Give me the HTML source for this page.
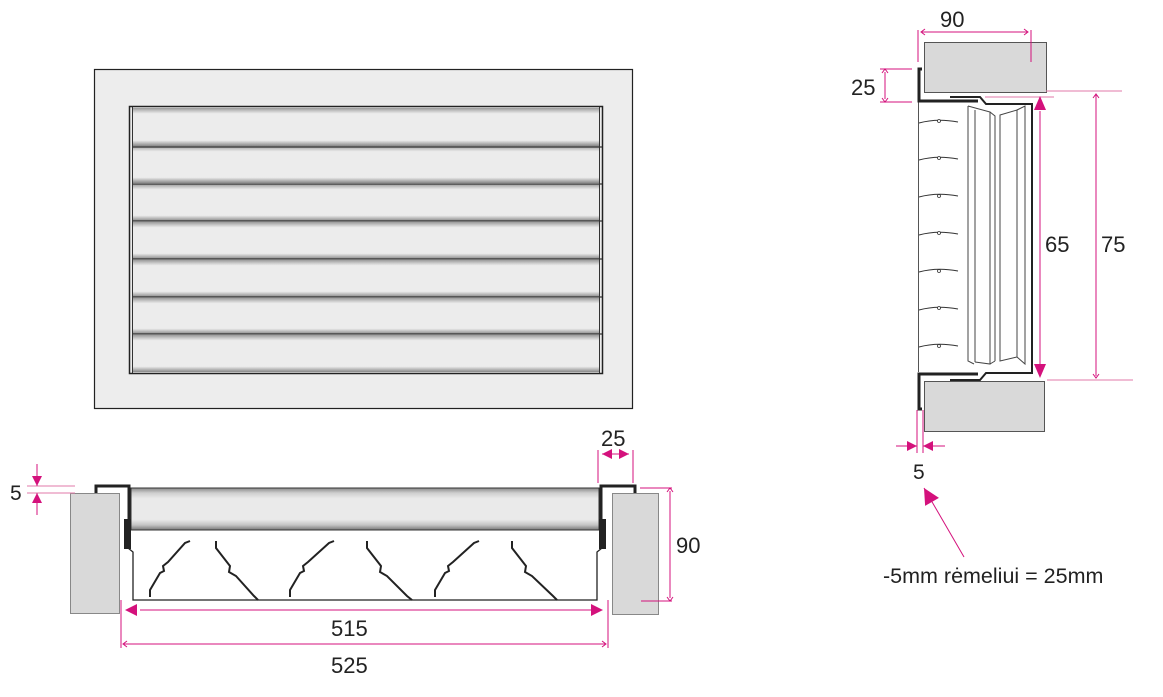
<!DOCTYPE html>
<html><head><meta charset="utf-8"><style>
html,body{margin:0;padding:0;background:#fff;}
svg{display:block;}
text{font-family:"Liberation Sans",Arial,sans-serif;fill:#222;}
</style></head><body>
<svg width="1163" height="697" viewBox="0 0 1163 697" xmlns="http://www.w3.org/2000/svg">
<defs>
<linearGradient id="sl" x1="0" y1="0" x2="0" y2="1">
<stop offset="0" stop-color="#9a9a9a"/><stop offset="0.08" stop-color="#c8c8c8"/><stop offset="0.15" stop-color="#ececec"/><stop offset="0.85" stop-color="#ececec"/><stop offset="0.92" stop-color="#bdbdbd"/><stop offset="1" stop-color="#888"/>
</linearGradient>
<linearGradient id="sl2" x1="0" y1="0" x2="0" y2="1">
<stop offset="0" stop-color="#888"/><stop offset="0.12" stop-color="#cfcfcf"/><stop offset="0.25" stop-color="#eaeaea"/><stop offset="0.75" stop-color="#eaeaea"/><stop offset="0.88" stop-color="#c4c4c4"/><stop offset="1" stop-color="#777"/>
</linearGradient>
<marker id="a" viewBox="0 0 10 10" refX="10" refY="5" markerWidth="10" markerHeight="10" markerUnits="userSpaceOnUse" orient="auto"><path d="M0,0L10,5L0,10z" fill="#d4117c"/></marker>
<marker id="b" viewBox="0 0 10 10" refX="10" refY="5" markerWidth="18" markerHeight="16" markerUnits="userSpaceOnUse" orient="auto"><path d="M0,0L10,5L0,10z" fill="#d4117c"/></marker>
</defs>

<!-- FRONT VIEW -->
<rect x="94.5" y="69.5" width="538" height="339" fill="#ededed" stroke="#222" stroke-width="1.2"/>
<rect x="129.5" y="106.5" width="473" height="267" fill="#ececec" stroke="#222" stroke-width="1.5"/>
<g>
<rect x="133" y="108" width="467" height="38" fill="url(#sl)"/>
<rect x="133" y="146" width="467" height="37" fill="url(#sl)"/>
<rect x="133" y="184" width="467" height="37" fill="url(#sl)"/>
<rect x="133" y="222" width="467" height="37" fill="url(#sl)"/>
<rect x="133" y="260" width="467" height="37" fill="url(#sl)"/>
<rect x="133" y="298" width="467" height="36" fill="url(#sl)"/>
<rect x="133" y="335" width="467" height="37" fill="url(#sl)"/>
</g>
<g stroke="#333" stroke-width="1.3">
<line x1="132" y1="147" x2="602" y2="147"/><line x1="132" y1="184" x2="602" y2="184"/>
<line x1="132" y1="221" x2="602" y2="221"/><line x1="132" y1="259" x2="602" y2="259"/>
<line x1="132" y1="297" x2="602" y2="297"/><line x1="132" y1="334" x2="602" y2="334"/>
</g>
<line x1="132.5" y1="107" x2="132.5" y2="373" stroke="#333" stroke-width="1"/>
<line x1="599.5" y1="107" x2="599.5" y2="373" stroke="#333" stroke-width="1"/>

<!-- BOTTOM VIEW -->
<rect x="70.5" y="493.5" width="49" height="120" fill="#d9d9d9" stroke="#888" stroke-width="1"/>
<rect x="612.5" y="493.5" width="46" height="121" fill="#d9d9d9" stroke="#888" stroke-width="1"/>
<rect x="131" y="488" width="468" height="42" fill="url(#sl2)" stroke="#333" stroke-width="1"/>
<path d="M96,493 V486 H129 V520" fill="none" stroke="#222" stroke-width="3"/>
<rect x="124" y="519" width="7" height="30" fill="#222"/>
<path d="M635,493 V486 H601 V520" fill="none" stroke="#222" stroke-width="3"/>
<rect x="599" y="519" width="7" height="30" fill="#222"/>
<path d="M128,548 L133,552 V600 H597 V552 L602,548" fill="none" stroke="#222" stroke-width="1.3"/>
<g fill="none" stroke="#222" stroke-width="2">
<path d="M150,597 V590 L160,573 L164,571 L163,566 L168,562 L185,543 L190,541"/>
<path d="M216,541 V548 L230,566 L229,572 L236,576 L254,596 L258,600"/>
<path d="M290,597 V590 L300,573 L304,571 L303,566 L308,562 L329,543 L334,541"/>
<path d="M367,541 V548 L381,566 L380,572 L387,576 L407,596 L412,600"/>
<path d="M435,597 V590 L445,573 L449,571 L448,566 L453,562 L474,543 L479,541"/>
<path d="M512,541 V548 L526,566 L525,572 L532,576 L553,596 L557,600"/>
</g>
<g stroke="#d4117c" stroke-width="1" fill="none">
<line x1="27" y1="486" x2="75" y2="486" stroke="#e07aa8"/>
<line x1="27" y1="493" x2="75" y2="493" stroke="#e07aa8"/>
<line x1="37" y1="464" x2="37" y2="486" marker-end="url(#a)"/>
<line x1="37" y1="515" x2="37" y2="493" marker-end="url(#a)"/>
<line x1="598" y1="450" x2="598" y2="483"/>
<line x1="633" y1="450" x2="633" y2="483"/>
<line x1="602" y1="454" x2="629" y2="454" marker-end="url(#a)"/>
<line x1="629" y1="454" x2="602" y2="454" marker-end="url(#a)"/>
<line x1="640" y1="488" x2="672" y2="488"/>
<line x1="641" y1="601" x2="672" y2="601"/>
<line x1="670" y1="491" x2="670" y2="598"/>
<path d="M667,492 L670,488 L673,492 M667,597 L670,601 L673,597"/>
<line x1="121" y1="600" x2="121" y2="648"/>
<line x1="608" y1="600" x2="608" y2="648"/>
<line x1="140" y1="610" x2="595" y2="610"/>
<path d="M125,610 L137,604 V616 Z M603,610 L591,604 V616 Z" fill="#d4117c" stroke="none"/>
<line x1="124" y1="644" x2="605" y2="644"/>
<path d="M127,641 L123,644 L127,647 M602,641 L606,644 L602,647"/>
</g>
<text x="10" y="500" font-size="21">5</text>
<text x="601" y="446" font-size="22">25</text>
<text x="676" y="553" font-size="22">90</text>
<text x="331" y="636" font-size="22">515</text>
<text x="331" y="673" font-size="22">525</text>

<!-- SIDE VIEW -->
<rect x="924.5" y="42.5" width="122" height="50" fill="#d9d9d9" stroke="#555" stroke-width="1"/>
<rect x="924.5" y="381.5" width="120" height="50" fill="#d9d9d9" stroke="#555" stroke-width="1"/>
<line x1="918.5" y1="102" x2="918.5" y2="372" stroke="#555" stroke-width="1"/>
<path d="M922,69 H919 V101 H978" fill="none" stroke="#222" stroke-width="3"/>
<path d="M950,97 H980 L986,104 H1032 V373 H986 L980,380 H950" fill="none" stroke="#222" stroke-width="2"/>
<path d="M922,409 H919 V374 H978" fill="none" stroke="#222" stroke-width="3"/>
<g fill="none" stroke="#444" stroke-width="1">
<path d="M968,106 V361 L974,364"/>
<path d="M968,106 L990,112 V364 L975,362"/>
<path d="M975,110 V362"/>
<path d="M990,112 L995,116 V361"/>
<path d="M1000,115 L1017,110 V357 L1000,361 Z"/>
<path d="M1017,110 L1025,106 V364 L1017,357"/>
<path d="M990,364 L995,361"/>
</g>
<g fill="none" stroke="#333" stroke-width="1">
<path d="M919,123 Q937,118 958,122"/><path d="M919,160 Q937,155 958,159"/>
<path d="M919,197 Q937,192 958,196"/><path d="M919,235 Q937,230 958,234"/>
<path d="M919,272 Q937,267 958,271"/><path d="M919,310 Q937,305 958,309"/>
<path d="M919,347 Q937,342 958,346"/>
</g>
<g fill="#fff" stroke="#333" stroke-width="0.8">
<circle cx="939" cy="121" r="1.5"/><circle cx="939" cy="158" r="1.5"/><circle cx="939" cy="196" r="1.5"/>
<circle cx="939" cy="233" r="1.5"/><circle cx="939" cy="271" r="1.5"/><circle cx="939" cy="308" r="1.5"/><circle cx="939" cy="346" r="1.5"/>
</g>
<g stroke="#d4117c" stroke-width="1" fill="none">
<line x1="918" y1="30" x2="918" y2="62"/>
<line x1="1031" y1="30" x2="1031" y2="62"/>
<line x1="922" y1="32" x2="1027" y2="32"/>
<path d="M925,29 L921,32 L925,35 M1024,29 L1028,32 L1024,35"/>
<line x1="880" y1="69" x2="912" y2="69"/>
<line x1="880" y1="102" x2="912" y2="102"/>
<line x1="885" y1="72" x2="885" y2="99"/>
<path d="M882,73 L885,69 L888,73 M882,98 L885,102 L888,98"/>
<line x1="985" y1="97" x2="1054" y2="97" stroke="#e07aa8"/>
<line x1="1046" y1="91" x2="1122" y2="91" stroke="#e07aa8"/>
<line x1="1047" y1="380" x2="1133" y2="380" stroke="#e07aa8"/>
<line x1="1040" y1="111" x2="1040" y2="367"/>
<path d="M1040,96 L1034,110 H1046 Z M1040,378 L1034,364 H1046 Z" fill="#d4117c" stroke="none"/>
<line x1="1096" y1="95" x2="1096" y2="376"/>
<path d="M1093,98 L1096,94 L1099,98 M1093,374 L1096,378 L1099,374"/>
<line x1="917" y1="410" x2="917" y2="453"/>
<line x1="923" y1="410" x2="923" y2="453"/>
<line x1="896" y1="446" x2="917" y2="446" marker-end="url(#a)"/>
<line x1="945" y1="446" x2="923" y2="446" marker-end="url(#a)"/>
<line x1="964" y1="557" x2="924" y2="488" marker-end="url(#b)"/>
</g>
<text x="940" y="27" font-size="22" fill="#333">90</text>
<text x="851" y="95" font-size="22">25</text>
<text x="1045" y="252" font-size="22">65</text>
<text x="1101" y="252" font-size="22">75</text>
<text x="913" y="479" font-size="21">5</text>
<text x="883" y="583" font-size="21.5">-5mm rėmeliui = 25mm</text>
</svg>
</body></html>
